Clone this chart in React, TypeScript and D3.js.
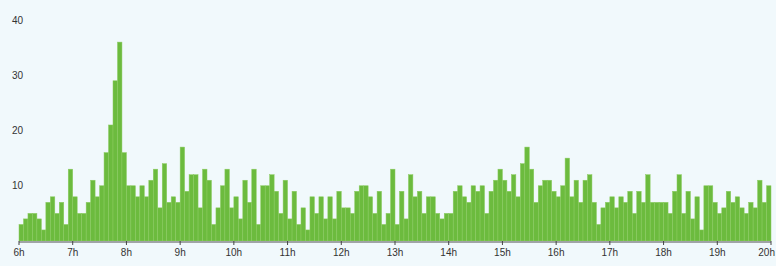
import React from "react";
import * as d3 from "d3";

const startHour = 6;
const endHour = 20;
const binsPerHour = 12;

const counts: number[] = [
  3, 4, 5, 5, 4, 2, 7, 8, 5, 7, 3, 13,
  8, 5, 5, 7, 11, 8, 10, 16, 21, 29, 36, 16,
  10, 10, 8, 10, 8, 11, 13, 6, 14, 7, 8, 7,
  17, 9, 12, 12, 6, 13, 11, 3, 6, 10, 13, 6,
  8, 4, 11, 7, 13, 3, 10, 10, 12, 9, 5, 11,
  4, 9, 3, 6, 2, 8, 5, 8, 4, 8, 4, 9,
  6, 6, 5, 9, 10, 10, 8, 5, 9, 3, 5, 13,
  3, 9, 4, 12, 8, 9, 5, 8, 8, 5, 4, 5,
  5, 9, 10, 8, 7, 10, 9, 10, 5, 9, 11, 13,
  11, 9, 12, 8, 14, 17, 13, 7, 10, 11, 11, 9,
  8, 10, 15, 8, 11, 7, 11, 12, 7, 3, 6, 7,
  8, 6, 8, 7, 9, 5, 9, 7, 12, 7, 7, 7,
  7, 5, 9, 12, 5, 9, 4, 8, 2, 10, 10, 7,
  5, 6, 9, 7, 8, 6, 5, 7, 6, 11, 7, 10,
];

const xTickHours: number[] = [6, 7, 8, 9, 10, 11, 12, 13, 14, 15, 16, 17, 18, 19, 20];
const xTickLabels: string[] = xTickHours.map((h) => `${h}h`);
const yTicks: number[] = [10, 20, 30, 40];

const W = 776;
const H = 266;

export default function App() {
  const x = d3.scaleLinear().domain([startHour, endHour]).range([19, 771]);
  const y = d3.scaleLinear().domain([0, 40]).range([241, 20]);
  const font = "'Liberation Sans', Arial, sans-serif";

  return (
    <div style={{ position: "absolute", left: 0, top: 0 }}>
      <svg width={W} height={H} style={{ display: "block" }}>
        <rect x={0} y={0} width={W} height={H} fill="#f1f9fc" />
        <g>
          {counts.map((v, i) => {
            const x0 = x(startHour + i / binsPerHour);
            const x1 = x(startHour + (i + 1) / binsPerHour);
            return (
              <rect
                key={i}
                x={x0}
                y={y(v)}
                width={x1 - x0}
                height={y(0) - y(v)}
                fill="#6cbb3e"
                stroke="#8ccc62"
                strokeWidth={0.5}
              />
            );
          })}
        </g>
        <line x1={x(startHour)} x2={x(endHour)} y1={y(0) + 1} y2={y(0) + 1} stroke="#a0a4a6" strokeWidth={2} />
        {xTickHours.map((h, i) => {
          const last = i === xTickHours.length - 1;
          return (
            <g key={h}>
              <line x1={x(h)} x2={x(h)} y1={y(0)} y2={y(0) + 4} stroke="#444" strokeWidth={1} />
              <text
                x={last ? W - 1 : x(h)}
                y={256}
                textAnchor={last ? "end" : "middle"}
                fontFamily={font}
                fontSize={10}
                fill="#333"
              >
                {xTickLabels[i]}
              </text>
            </g>
          );
        })}
        {yTicks.map((t) => (
          <text
            key={t}
            x={23}
            y={y(t)}
            dy="0.35em"
            textAnchor="end"
            fontFamily={font}
            fontSize={10}
            fill="#333"
          >
            {t}
          </text>
        ))}
      </svg>
    </div>
  );
}
